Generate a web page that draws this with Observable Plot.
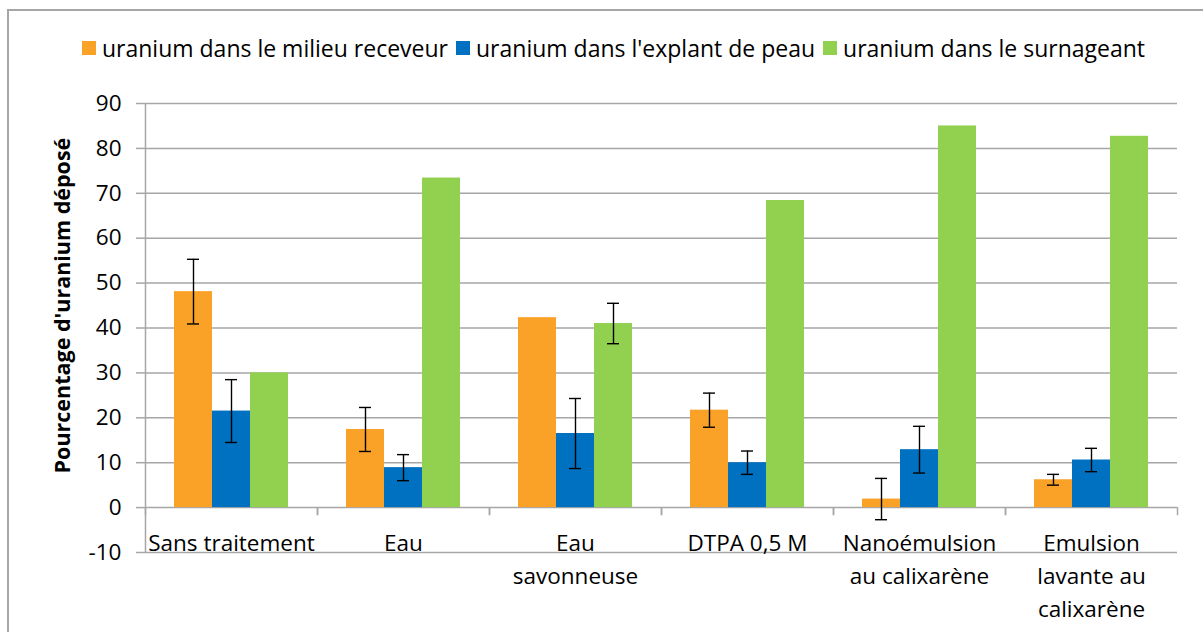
<!DOCTYPE html>
<html>
<head>
<meta charset="utf-8">
<script src="https://cdn.jsdelivr.net/npm/d3@7"></script>
<script src="https://cdn.jsdelivr.net/npm/@observablehq/plot@0.6"></script>
<style>
  html, body { margin: 0; padding: 0; background: #fff; }
  body { width: 1203px; height: 632px; overflow: hidden; position: relative; font-family: "Open Sans", sans-serif; }
  #frame { position: absolute; left: 7px; top: 9px; width: 1220px; height: 640px; border: 2px solid #a6a6a6; box-sizing: border-box; }
  #legend { position: absolute; left: 0; top: 33px; width: 1203px; height: 30px; display: flex; justify-content: center; align-items: center; font-size: 23px; color: #000; padding-left: 24px; box-sizing: border-box; }
  .item { display: flex; align-items: center; margin: 0 4px; white-space: nowrap; }
  .sw { width: 14px; height: 14px; margin-right: 6px; display: inline-block; }
  #chart { position: absolute; left: 0; top: 80px; }
</style>
</head>
<body>
<div id="frame"></div>
<div id="legend"></div>
<div id="chart"></div>
<script>
const categories = ["Sans traitement", "Eau", "Eau\nsavonneuse", "DTPA 0,5 M", "Nanoémulsion\nau calixarène", "Emulsion\nlavante au\ncalixarène"];
const series = ["uranium dans le milieu receveur", "uranium dans l'explant de peau", "uranium dans le surnageant"];
const receveur = [48.1, 17.4, 42.3, 21.7, 1.9, 6.2];
const explant = [21.5, 8.9, 16.5, 10.0, 12.9, 10.6];
const surnageant = [30.0, 73.4, 41.0, 68.4, 85.0, 82.7];
const receveurErr = [7.2, 4.9, null, 3.8, 4.6, 1.2];
const explantErr = [7.0, 2.9, 7.8, 2.6, 5.2, 2.6];
const surnageantErr = [null, null, 4.5, null, null, null];
const colors = ["#FAA128", "#0070C0", "#92D050"];
const yTicks = [-10, 0, 10, 20, 30, 40, 50, 60, 70, 80, 90];
const yLabel = "Pourcentage d'uranium déposé";

const values = [receveur, explant, surnageant];
const errors = [receveurErr, explantErr, surnageantErr];
const data = [];
categories.forEach((c, i) => series.forEach((s, j) => {
  data.push({cat: c, series: s, value: values[j][i], err: errors[j][i]});
}));
const errData = data.filter(d => d.err != null);

// legend
const legend = document.getElementById("legend");
series.forEach((s, j) => {
  const it = document.createElement("div");
  it.className = "item";
  const sw = document.createElement("span");
  sw.className = "sw";
  sw.style.background = colors[j];
  it.appendChild(sw);
  it.appendChild(document.createTextNode(s));
  legend.appendChild(it);
});

const grid = "#a6a6a6";
const W = 1203, mL = 142, mR = 24;
const facetW = (W - mL - mR) / categories.length;
const step = facetW / 4.5;
const edge = 1.25 * step;

const chart = Plot.plot({
  width: W,
  height: 552,
  marginTop: 23,
  marginBottom: 80,
  marginLeft: mL,
  marginRight: mR,
  style: {fontFamily: "'Open Sans', sans-serif", fontSize: "22.5px", color: "#000", background: "transparent", overflow: "visible"},
  fx: {domain: categories, padding: 0, axis: null, label: null},
  x: {domain: series, paddingInner: 0, paddingOuter: 0.75, axis: null},
  y: {domain: [-10, 90], axis: null},
  color: {domain: series, range: colors},
  marks: [
    Plot.gridY(yTicks, {stroke: grid, strokeOpacity: 1, strokeWidth: 1.5}),
    Plot.ruleX([categories[0]], {fx: d => d, x: () => series[0], y1: -10, y2: 90, dx: -edge, stroke: grid, strokeWidth: 1.5}),
    Plot.ruleX(categories, {fx: d => d, x: () => series[0], y1: 0, y2: -1.8, dx: -edge, stroke: grid, strokeWidth: 1.5}),
    Plot.ruleX(categories, {fx: d => d, x: () => series[2], y1: 0, y2: -1.8, dx: edge, stroke: grid, strokeWidth: 1.5}),
    Plot.axisY({ticks: yTicks, tickFormat: d => String(d), tickSize: 9, tickPadding: 15, stroke: grid, strokeWidth: 1.5, label: null}),
    Plot.text([yLabel], {fx: () => categories[0], frameAnchor: "left", y: () => 45, text: d => d, rotate: -90, textAnchor: "middle", lineAnchor: "middle", dx: -82, fontWeight: "bold", fontSize: 21.5, fill: "#000"}),
    Plot.barY(data, {fx: "cat", x: "series", y: "value", fill: "series"}),
    Plot.ruleX(errData, {fx: "cat", x: "series", y1: d => d.value - d.err, y2: d => d.value + d.err, stroke: "#000", strokeWidth: 1.4}),
    Plot.tickY(errData, {fx: "cat", x: "series", y: d => d.value - d.err, stroke: "#000", strokeWidth: 1.4, inset: 13}),
    Plot.tickY(errData, {fx: "cat", x: "series", y: d => d.value + d.err, stroke: "#000", strokeWidth: 1.4, inset: 13}),
    Plot.text(categories, {fx: d => d, y: () => 0, text: d => d, lineAnchor: "top", dy: 20, lineHeight: 1.47, fill: "#000"})
  ]
});
document.getElementById("chart").appendChild(chart);
</script>
</body>
</html>
